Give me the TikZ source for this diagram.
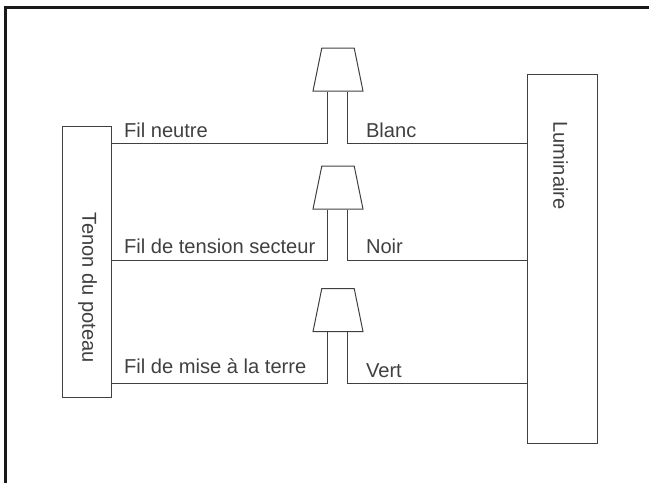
\documentclass[tikz,border=0pt]{standalone}
\usepackage{fontspec}
\setmainfont{Liberation Sans}
\usetikzlibrary{shapes.geometric}

\begin{document}
\begin{tikzpicture}[x=0.75pt, y=-0.75pt, line width=0.75pt, color=black!75,
  every node/.style = {font=\fontsize{15.1}{18}\selectfont, text=black!75},
  boite/.style = {draw, inner sep=0pt, minimum width=#1},
  lampe/.style = {shape=trapezium, draw, inner sep=0pt,
    trapezium stretches=true, trapezium left angle=75.6, trapezium right angle=75.6,
    minimum width=37.5pt, minimum height=32.25pt},
  fil/.style = {anchor=base west, inner sep=0pt, outer sep=0pt}]
  \useasboundingbox (0,0) rectangle (649,483);
  \coordinate (cadreB) at (5,483);
  \coordinate (cadreH) at (649,7);
  \draw[line width=2.25pt, color=black!90] (cadreB) |- (cadreH);

  \node[boite=36.75pt, minimum height=203.25pt] (tenon) at (86.5,262) {};
  \node[rotate=-90] at (87.5,288) {Tenon du poteau};
  \node[boite=52.5pt, minimum height=276.75pt] (luminaire) at (562,258.5) {};
  \node[rotate=-90] at (560.5,165.5) {Luminaire};

  \node[lampe] (lampeA) at (338,69.5) {\phantom{x}};
  \node[lampe] (lampeB) at (338,187.5) {\phantom{x}};
  \node[lampe] (lampeC) at (338,310) {\phantom{x}};

  \coordinate (coudeA) at (327,143);
  \coordinate (coudeB) at (327,260);
  \coordinate (coudeC) at (327,383);
  \coordinate (retourA) at (347,143);
  \coordinate (retourB) at (347,260);
  \coordinate (retourC) at (347,383);

  \draw (tenon.east |- coudeA) -- (coudeA) -- (coudeA |- lampeA.south);
  \draw (tenon.east |- coudeB) -- (coudeB) -- (coudeB |- lampeB.south);
  \draw (tenon.east |- coudeC) -- (coudeC) -- (coudeC |- lampeC.south);
  \draw (luminaire.west |- retourA) -- (retourA) -- (retourA |- lampeA.south);
  \draw (luminaire.west |- retourB) -- (retourB) -- (retourB |- lampeB.south);
  \draw (luminaire.west |- retourC) -- (retourC) -- (retourC |- lampeC.south);

  \node[fil] (neutre) at (124,137) {Fil neutre};
  \node[fil] (tension) at (124,253) {Fil de tension secteur};
  \node[fil] (terre) at (124,373) {Fil de mise à la terre};
  \node[fil] (blanc) at (366,137) {Blanc};
  \node[fil] (noir) at (366,253) {Noir};
  \node[fil] (vert) at (366,377) {Vert};
\end{tikzpicture}
\end{document}
